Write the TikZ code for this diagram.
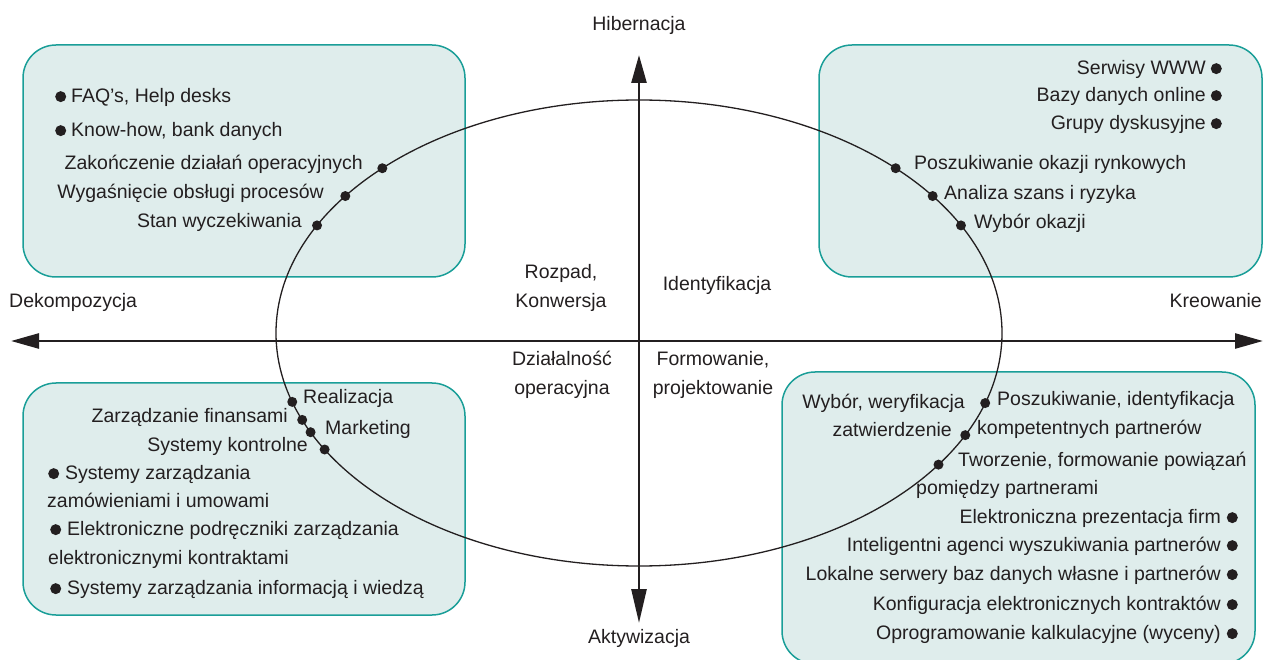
\documentclass[tikz,border=0pt]{standalone}
\usepackage{fontspec}
\setmainfont{Liberation Sans}
\usetikzlibrary{arrows.meta,calc}
\definecolor{ink}{HTML}{231F20}
\definecolor{boxfill}{HTML}{DFEDEC}
\definecolor{boxline}{HTML}{1A9E98}
% small filled bullet used in the lists
\newcommand\bul{\tikz[baseline={(0pt,-6pt)}]\fill[ink] (0pt,0pt) circle (5.5pt);}

\begin{document}
\begin{tikzpicture}[x=1pt,y=-1pt,
  every node/.style={text=ink,font=\fontsize{19.5}{29}\selectfont},
  panel/.style={draw=boxline,fill=boxfill,line width=1.5pt,rounded corners=33pt},
  axisline/.style={draw=ink,line width=2.6pt},
  cycle/.style={draw=ink,line width=1.3pt},
  dot/.style={circle,fill=ink,inner sep=0pt,minimum size=10pt},
  lbl/.style={inner sep=0pt},
  lw/.style={lbl,anchor=mid west},
  le/.style={lbl,anchor=mid east},
  two/.style={inner sep=0pt,align=center}]
\useasboundingbox (0,0) rectangle (1267,660);

% quadrant panels
\path[panel] (23,45) rectangle (465,277);
\path[panel] (819,45) rectangle (1262,277);
\path[panel] (23,383) rectangle (465,615);
\path[panel] (782,372) rectangle (1255,664);

% life cycle ellipse
\coordinate (O) at (639,333);
\draw[cycle] (O) ellipse [x radius=363, y radius=233];

% axes
\coordinate (W) at (11,341);
\coordinate (E) at (1263,341);
\coordinate (N) at (639,55);
\coordinate (S) at (639,623);
\draw[axisline,{Triangle[length=28pt,width=15pt]}-{Triangle[length=28pt,width=15pt]}] (W) -- (E);
\draw[axisline,{Triangle[length=28pt,width=15pt]}-{Triangle[length=34pt,width=15pt]}] (N) -- (S);

% axis labels
\node (hib) at (639,25) {Hibernacja};
\node (akt) at (639,638) {Aktywizacja};
\node[lw] (dek) at (9,305) {Dekompozycja};
\node[le] (kre) at (1262,305) {Kreowanie};

% phase labels
\node[two] (roz) at (561,288) {Rozpad,\\Konwersja};
\node (ide) at (717,285) {Identyfikacja};
\node[two] (dzi) at (562,375) {Działalność\\operacyjna};
\node[two] (for) at (713,375) {Formowanie,\\projektowanie};

% points on the cycle
\node[dot] (p1) at ($(O)+(-135:363 and 233)$) {};
\node[dot] (p2) at ($(O)+(-144:363 and 233)$) {};
\node[dot] (p3) at ($(O)+(-152.5:363 and 233)$) {};
\node[dot] (q1) at ($(O)+(-45:363 and 233)$) {};
\node[dot] (q2) at ($(O)+(-36:363 and 233)$) {};
\node[dot] (q3) at ($(O)+(-27.5:363 and 233)$) {};
\node[dot] (r1) at ($(O)+(162.8:363 and 233)$) {};
\node[dot] (r2) at ($(O)+(158.1:363 and 233)$) {};
\node[dot] (r3) at ($(O)+(154.8:363 and 233)$) {};
\node[dot] (r4) at ($(O)+(150:363 and 233)$) {};
\node[dot] (s1) at ($(O)+(17.5:363 and 233)$) {};
\node[dot] (s2) at ($(O)+(26:363 and 233)$) {};
\node[dot] (s3) at ($(O)+(34.4:363 and 233)$) {};

% top left panel
\node[lw] (tl1) at (55,100) {\bul\hspace{5pt}FAQ’s, Help desks};
\node[lw] (tl2) at (55,134) {\bul\hspace{5pt}Know-how, bank danych};
\node[le] (tl3) at (363,167) {Zakończenie działań operacyjnych};
\node[le] (tl4) at (324,196) {Wygaśnięcie obsługi procesów};
\node[le] (tl5) at (302,225) {Stan wyczekiwania};

% top right panel
\node[le] (tr1) at (1222,72) {Serwisy WWW\hspace{5pt}\bul};
\node[le] (tr2) at (1222,99) {Bazy danych online\hspace{5pt}\bul};
\node[le] (tr3) at (1222,127) {Grupy dyskusyjne\hspace{5pt}\bul};
\node[lw] (tr4) at (914,167) {Poszukiwanie okazji rynkowych};
\node[lw] (tr5) at (944,197) {Analiza szans i ryzyka};
\node[lw] (tr6) at (974,226) {Wybór okazji};

% bottom left panel
\node[lw] (bl1) at (303,401) {Realizacja};
\node[le] (bl2) at (288,420) {Zarządzanie finansami};
\node[lw] (bl3) at (325,432) {Marketing};
\node[le] (bl4) at (308,449) {Systemy kontrolne};
\node[lw] (bl5) at (48,477) {\bul\hspace{6pt}Systemy zarządzania};
\node[lw] (bl6) at (47,505) {zamówieniami i umowami};
\node[lw] (bl7) at (50,533) {\bul\hspace{6pt}Elektroniczne podręczniki zarządzania};
\node[lw] (bl8) at (48,562) {elektronicznymi kontraktami};
\node[lw] (bl9) at (50,592) {\bul\hspace{6pt}Systemy zarządzania informacją i wiedzą};

% bottom right panel
\node[le] (br1) at (965,406) {Wybór, weryfikacja};
\node[le] (br2) at (952,434) {zatwierdzenie};
\node[lw] (br3) at (997,403) {Poszukiwanie, identyfikacja};
\node[lw] (br4) at (977,432) {kompetentnych partnerów};
\node[lw] (br5) at (958,464) {Tworzenie, formowanie powiązań};
\node[lw] (br6) at (916,492) {pomiędzy partnerami};
\node[le] (br7) at (1238,521) {Elektroniczna prezentacja firm\hspace{6pt}\bul};
\node[le] (br8) at (1238,549) {Inteligentni agenci wyszukiwania partnerów\hspace{6pt}\bul};
\node[le] (br9) at (1238,578) {Lokalne serwery baz danych własne i partnerów\hspace{6pt}\bul};
\node[le] (br10) at (1238,608) {Konfiguracja elektronicznych kontraktów\hspace{6pt}\bul};
\node[le] (br11) at (1238,637) {Oprogramowanie kalkulacyjne (wyceny)\hspace{6pt}\bul};
\end{tikzpicture}
\end{document}
